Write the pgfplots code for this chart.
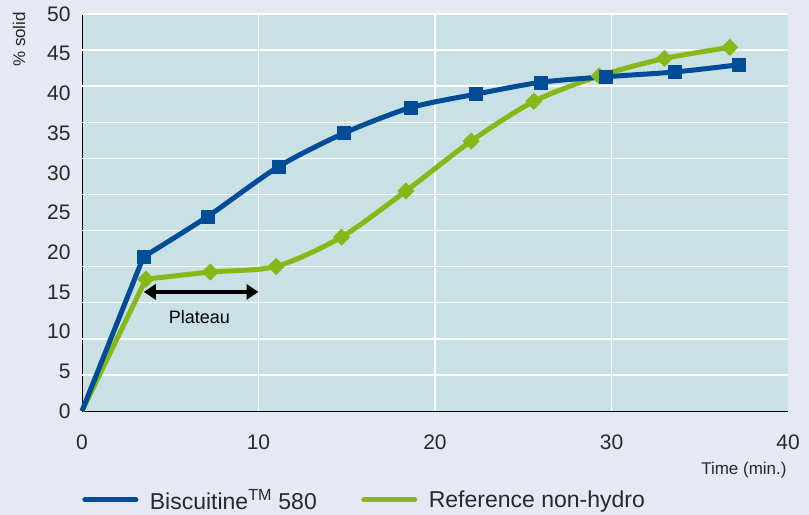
\documentclass[border=0pt]{standalone}
\usepackage{fontspec}
\setmainfont{Liberation Sans}
\usepackage{pgfplots}
\pgfplotsset{compat=1.18}
\usetikzlibrary{arrows.meta}
\definecolor{bgout}{RGB}{230,232,243}
\definecolor{plotbg}{RGB}{201,225,229}
\definecolor{bblue}{RGB}{0,76,151}
\definecolor{bgreen}{RGB}{134,184,24}
\definecolor{tickgray}{RGB}{40,40,40}
\begin{document}
\begin{tikzpicture}
\path[use as bounding box, fill=bgout] (0,0) rectangle (809bp,515bp);
\begin{axis}[
  at={(82bp,104bp)}, anchor=south west,
  scale only axis, width=706bp, height=397bp,
  xmin=0, xmax=40, ymin=0, ymax=50,
  axis x line*=bottom, axis y line*=left,
  axis line style={black, line width=1bp, -},
  axis background/.style={fill=plotbg},
  xtick={0,10,20,30,40}, ytick={0,5,...,50},
  major tick length=0pt,
  extra x ticks={10,20,30}, extra x tick labels={},
  extra y ticks={4.5455,9.0909,13.6364,18.1818,22.7273,27.2727,31.8182,36.3636,40.9091,45.4545,50},
  extra y tick labels={},
  extra tick style={grid=major},
  grid style={white, line width=1.5bp},
  ticklabel style={font=\fontsize{21bp}{25bp}\selectfont, text=tickgray},
  xticklabel style={yshift=-20bp},
  yticklabel style={xshift=-8bp},
  /pgf/number format/assume math mode=true,
  clip=false,
  legend columns=2,
  legend style={at={(-0.004,-0.224)}, anchor=west, draw=none, fill=none,
    font=\fontsize{23bp}{27bp}\selectfont, text=tickgray,
    /tikz/every odd column/.append style={column sep=9.5bp},
    /tikz/every even column/.append style={column sep=42.5bp}},
  legend image code/.code={\draw[#1, line width=5bp, line cap=round] (2.5bp,0bp) -- (53.5bp,0bp);},
]
\addplot[bgreen, line width=5bp, line join=round, forget plot] coordinates {(0,0) (3.62,16.6)};
\addplot[bgreen, line width=5bp, line join=round, smooth, tension=0.45, mark=square*, mark size=5.8bp, mark options={rotate=45, line width=0.5bp}, forget plot] coordinates {
(3.62,16.6) (7.27,17.5) (11.0,18.2) (14.7,21.9) (18.35,27.7) (22.05,34.0) (25.6,39.0) (29.3,42.2) (33.0,44.4) (36.7,45.8)};
\addplot[bblue, line width=5bp, line join=round, forget plot] coordinates {(0,0) (3.48,19.4)};
\addplot[bblue, line width=5bp, line join=round, smooth, tension=0.45, mark=square*, mark size=6.5bp, mark options={line width=0.5bp}, forget plot] coordinates {
(3.48,19.4) (7.12,24.5) (11.15,30.8) (14.85,35.0) (18.6,38.2) (22.3,39.9) (26.0,41.4) (29.7,42.1) (33.6,42.7) (37.2,43.6)};
\addlegendimage{bblue}\addlegendentry{Biscuitine\textsuperscript{TM} 580}
\addlegendimage{bgreen}\addlegendentry{Reference non-hydro}
\draw[black, line width=3.5bp, {Triangle[length=12bp,width=15bp]}-{Triangle[length=12bp,width=15bp]}] (axis cs:3.5,15.0) -- (axis cs:10,15.0);
\node[font=\fontsize{18bp}{22bp}\selectfont, text=black] at (axis cs:6.65,11.8) {Plateau};
\node[font=\fontsize{17bp}{20bp}\selectfont, text=tickgray, anchor=east] at (rel axis cs:1.003,-0.150) {Time (min.)};
\node[font=\fontsize{17bp}{20bp}\selectfont, text=tickgray, rotate=90] at (rel axis cs:-0.089,0.936) {\% solid};
\end{axis}
\end{tikzpicture}
\end{document}
